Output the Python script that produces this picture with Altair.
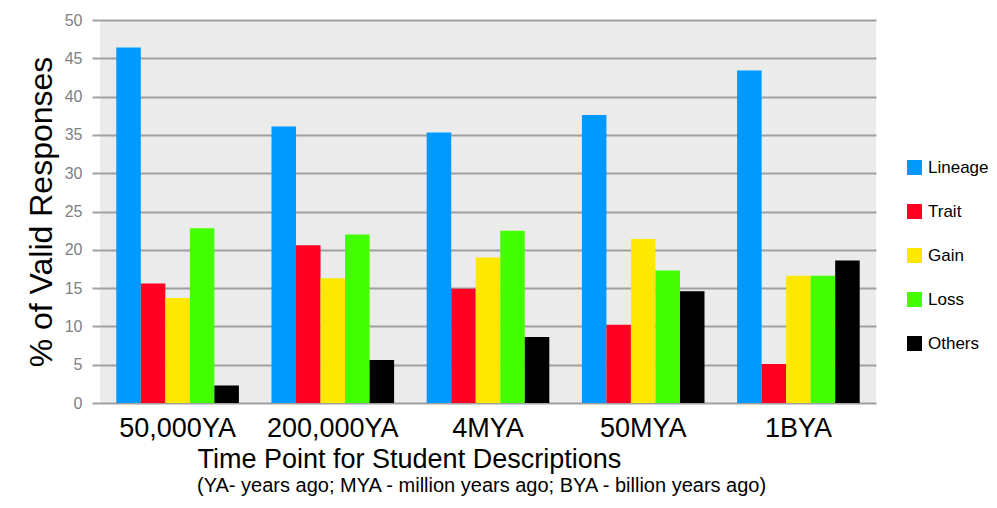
import altair as alt
import pandas as pd

periods = ["50,000YA", "200,000YA", "4MYA", "50MYA", "1BYA"]
categories = ["Lineage", "Trait", "Gain", "Loss", "Others"]
lineage = [46.4, 36.1, 35.3, 37.6, 43.4]
trait = [15.6, 20.6, 14.9, 10.2, 5.1]
gain = [13.7, 16.3, 19.0, 21.4, 16.6]
loss = [22.8, 22.0, 22.5, 17.3, 16.6]
others = [2.3, 5.6, 8.6, 14.6, 18.6]
colors = ["#0099ff", "#ff0022", "#ffe800", "#44ff00", "#000000"]
y_ticks = [0, 5, 10, 15, 20, 25, 30, 35, 40, 45, 50]

series = {"Lineage": lineage, "Trait": trait, "Gain": gain, "Loss": loss, "Others": others}
rows = []
for cat in categories:
    for p, v in zip(periods, series[cat]):
        rows.append({"period": p, "category": cat, "value": v})
df = pd.DataFrame(rows)

FONT = "Liberation Sans"

chart = alt.Chart(df).mark_bar().encode(
    x=alt.X(
        "period:N",
        sort=periods,
        scale=alt.Scale(paddingInner=0.21, paddingOuter=0.105),
        axis=alt.Axis(
            title="Time Point for Student Descriptions",
            titleFontSize=27,
            titleFontWeight="normal",
            titleColor="#000000",
            titleFont=FONT,
            titleAnchor="start",
            titleX=97,
            titlePadding=5,
            labelAngle=0,
            labelFontSize=27,
            labelColor="#000000",
            labelFont=FONT,
            labelPadding=12,
            ticks=False,
            domain=False,
        ),
    ),
    xOffset=alt.XOffset("category:N", sort=categories),
    y=alt.Y(
        "value:Q",
        scale=alt.Scale(domain=[0, 50]),
        axis=alt.Axis(
            values=y_ticks,
            title="% of Valid Responses",
            titleFontSize=32,
            titleFontWeight="normal",
            titleColor="#000000",
            titleFont=FONT,
            titlePadding=6,
            labelFontSize=16,
            labelColor="#808080",
            labelFont=FONT,
            labelPadding=10,
            tickSize=8,
            tickColor="#a0a0a0",
            tickWidth=2,
            grid=True,
            gridColor="#a0a0a0",
            gridWidth=2,
            domain=False,
        ),
    ),
    color=alt.Color(
        "category:N",
        sort=categories,
        scale=alt.Scale(domain=categories, range=colors),
        legend=alt.Legend(
            title=None,
            orient="none",
            legendX=806,
            legendY=139,
            symbolType="square",
            symbolSize=225,
            symbolStrokeWidth=0,
            labelFontSize=17,
            labelFont=FONT,
            labelColor="#000000",
            rowPadding=26,
            labelOffset=5,
        ),
    ),
).properties(
    width=776,
    height=383,
    title=alt.TitleParams(
        text="(YA- years ago; MYA - million years ago; BYA - billion years ago)",
        orient="bottom",
        anchor="start",
        frame="group",
        dx=97,
        fontSize=20,
        fontWeight="normal",
        font=FONT,
        color="#000000",
        offset=4,
    ),
    autosize=alt.AutoSizeParams(type="none"),
    padding={"left": 92, "top": 12, "right": 113, "bottom": 97},
).configure_view(
    fill="#ebebeb",
    strokeWidth=0,
)

chart.save("out.html", embed_options={"renderer": "svg", "actions": False})
